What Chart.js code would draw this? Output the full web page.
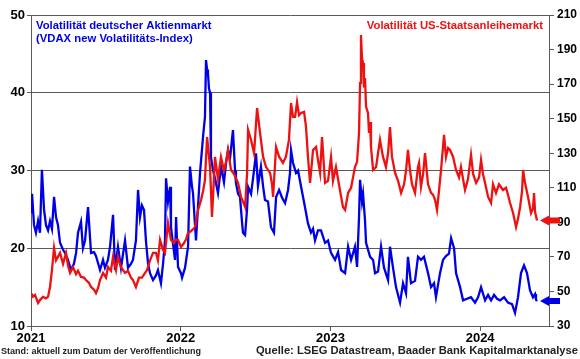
<!DOCTYPE html>
<html lang="de">
<head>
    <meta charset="UTF-8">
    <title>Volatilität</title>
    <script src="https://cdn.jsdelivr.net/npm/chart.js"></script>
    <style>
        body { margin: 0; background: #fff; }
        #wrap { width: 580px; height: 359px; }
    </style>
</head>
<body>
    <div id="wrap"><canvas id="volChart" width="580" height="359"></canvas></div>

    <script>
        // Zeitachse in Jahresbruchteilen
        let yearTicks = [2021, 2022, 2023, 2024];
        let leftTicks = [10, 20, 30, 40, 50];
        let rightTicks = [30, 50, 70, 90, 110, 130, 150, 170, 190, 210];

        // VDAX new (linke Achse)
        let vdaxDates = [2021.000, 2021.007, 2021.020, 2021.033, 2021.047, 2021.060, 2021.073, 2021.087, 2021.100, 2021.114,
            2021.127, 2021.140, 2021.154, 2021.167, 2021.180, 2021.194, 2021.214, 2021.227, 2021.247, 2021.267,
            2021.287, 2021.301, 2021.314, 2021.334, 2021.347, 2021.361, 2021.381, 2021.401, 2021.421, 2021.434,
            2021.461, 2021.481, 2021.494, 2021.514, 2021.528, 2021.548, 2021.561, 2021.581, 2021.601, 2021.628,
            2021.648, 2021.668, 2021.681, 2021.701, 2021.715, 2021.728, 2021.741, 2021.755, 2021.768, 2021.782,
            2021.795, 2021.815, 2021.835, 2021.848, 2021.868, 2021.882, 2021.895, 2021.902, 2021.915, 2021.929,
            2021.935, 2021.949, 2021.962, 2021.969, 2021.982, 2022.002, 2022.009, 2022.029, 2022.049, 2022.062,
            2022.075, 2022.082, 2022.102, 2022.116, 2022.129, 2022.149, 2022.162, 2022.169, 2022.176, 2022.182,
            2022.189, 2022.196, 2022.202, 2022.216, 2022.229, 2022.249, 2022.269, 2022.289, 2022.303, 2022.316,
            2022.329, 2022.349, 2022.363, 2022.369, 2022.383, 2022.396, 2022.409, 2022.416, 2022.430, 2022.443,
            2022.450, 2022.470, 2022.483, 2022.503, 2022.516, 2022.536, 2022.550, 2022.563, 2022.583, 2022.603,
            2022.623, 2022.637, 2022.657, 2022.677, 2022.697, 2022.717, 2022.730, 2022.737, 2022.750, 2022.770,
            2022.784, 2022.804, 2022.830, 2022.850, 2022.870, 2022.884, 2022.897, 2022.917, 2022.937, 2022.964,
            2022.984, 2023.004, 2023.031, 2023.051, 2023.071, 2023.098, 2023.118, 2023.138, 2023.164, 2023.178,
            2023.191, 2023.198, 2023.211, 2023.218, 2023.231, 2023.238, 2023.265, 2023.285, 2023.298, 2023.318,
            2023.338, 2023.358, 2023.385, 2023.398, 2023.418, 2023.438, 2023.465, 2023.485, 2023.505, 2023.518,
            2023.538, 2023.565, 2023.585, 2023.605, 2023.625, 2023.652, 2023.672, 2023.692, 2023.705, 2023.732,
            2023.752, 2023.772, 2023.792, 2023.806, 2023.826, 2023.839, 2023.866, 2023.886, 2023.912, 2023.939,
            2023.966, 2023.986, 2024.006, 2024.033, 2024.053, 2024.073, 2024.093, 2024.113, 2024.133, 2024.160,
            2024.186, 2024.213, 2024.233, 2024.253, 2024.273, 2024.293, 2024.313, 2024.333, 2024.353, 2024.367,
            2024.373, 2024.380];
        let vdaxValues = [24.5, 27.0, 23.0, 22.0, 23.5, 22.0, 30.1, 25.0, 23.0, 22.3,
            23.5, 22.5, 26.6, 24.0, 23.0, 20.7, 19.8, 19.4, 18.5, 17.2,
            18.0, 19.4, 22.0, 23.4, 20.0, 21.0, 25.3, 19.4, 19.5, 19.0,
            17.2, 18.5, 17.5, 18.5, 20.2, 24.3, 17.2, 20.2, 17.5, 21.0,
            17.5, 18.0, 18.5, 21.0, 27.5, 24.0, 25.5, 24.9, 20.9, 18.0,
            16.8, 15.9, 16.5, 17.2, 15.5, 18.0, 21.0, 29.0, 26.0, 27.9,
            22.7, 20.5, 18.5, 24.0, 17.6, 16.8, 16.2, 17.5, 20.2, 30.5,
            28.0, 27.1, 21.0, 25.5, 29.7, 34.3, 36.9, 44.2, 43.0, 42.5,
            40.5, 40.0, 31.7, 30.0, 29.0, 27.1, 30.5, 28.5, 31.0, 32.6,
            31.5, 35.2, 30.0, 28.4, 27.0, 26.6, 23.5, 22.0, 21.7, 25.0,
            27.9, 27.0, 29.0, 32.2, 28.0, 30.5, 28.0, 26.2, 26.0, 22.7,
            22.0, 26.6, 27.5, 26.5, 25.8, 27.5, 29.7, 32.6, 31.0, 29.7,
            30.0, 27.9, 25.3, 23.2, 22.0, 22.5, 21.0, 22.3, 22.3, 20.7,
            21.0, 19.4, 18.5, 19.5, 17.2, 16.8, 20.2, 18.5, 20.2, 17.6,
            24.0, 28.8, 26.0, 27.0, 23.6, 20.7, 18.9, 18.5, 16.8, 17.0,
            20.2, 17.5, 15.9, 20.2, 17.5, 15.0, 13.0, 15.5, 14.2, 18.9,
            15.5, 15.8, 18.9, 18.5, 18.9, 16.8, 15.0, 15.5, 13.7, 16.8,
            18.5, 19.0, 19.3, 21.3, 20.0, 16.8, 15.0, 13.3, 13.5, 13.7,
            13.0, 13.7, 15.0, 13.3, 14.0, 13.3, 14.0, 13.5, 13.3, 13.7,
            13.0, 12.8, 11.7, 13.7, 16.8, 17.8, 16.8, 14.6, 13.7, 14.1,
            13.4, 13.2];

        // MOVE-Index (rechte Achse)
        let moveDates = [2021.000, 2021.013, 2021.027, 2021.047, 2021.060, 2021.080, 2021.100, 2021.114, 2021.127, 2021.140,
            2021.154, 2021.167, 2021.180, 2021.194, 2021.214, 2021.234, 2021.247, 2021.261, 2021.281, 2021.301,
            2021.314, 2021.334, 2021.354, 2021.367, 2021.387, 2021.401, 2021.421, 2021.434, 2021.448, 2021.461,
            2021.481, 2021.501, 2021.514, 2021.534, 2021.548, 2021.568, 2021.581, 2021.601, 2021.628, 2021.648,
            2021.668, 2021.681, 2021.701, 2021.721, 2021.741, 2021.762, 2021.775, 2021.795, 2021.815, 2021.835,
            2021.848, 2021.862, 2021.868, 2021.882, 2021.895, 2021.915, 2021.935, 2021.955, 2021.969, 2021.982,
            2022.002, 2022.022, 2022.035, 2022.049, 2022.069, 2022.082, 2022.096, 2022.116, 2022.136, 2022.149,
            2022.162, 2022.176, 2022.189, 2022.196, 2022.209, 2022.229, 2022.249, 2022.269, 2022.289, 2022.303,
            2022.316, 2022.336, 2022.356, 2022.383, 2022.403, 2022.416, 2022.430, 2022.443, 2022.450, 2022.470,
            2022.490, 2022.510, 2022.530, 2022.550, 2022.570, 2022.597, 2022.610, 2022.617, 2022.637, 2022.657,
            2022.683, 2022.703, 2022.723, 2022.737, 2022.750, 2022.764, 2022.777, 2022.790, 2022.804, 2022.824,
            2022.837, 2022.850, 2022.864, 2022.884, 2022.904, 2022.917, 2022.931, 2022.944, 2022.964, 2022.984,
            2023.004, 2023.017, 2023.037, 2023.057, 2023.071, 2023.084, 2023.098, 2023.118, 2023.138, 2023.151,
            2023.164, 2023.178, 2023.191, 2023.198, 2023.204, 2023.211, 2023.218, 2023.224, 2023.231, 2023.238,
            2023.251, 2023.258, 2023.265, 2023.271, 2023.285, 2023.305, 2023.318, 2023.331, 2023.351, 2023.371,
            2023.385, 2023.398, 2023.411, 2023.432, 2023.452, 2023.472, 2023.492, 2023.505, 2023.518, 2023.532,
            2023.545, 2023.565, 2023.585, 2023.592, 2023.605, 2023.619, 2023.632, 2023.652, 2023.672, 2023.685,
            2023.699, 2023.712, 2023.725, 2023.739, 2023.759, 2023.772, 2023.786, 2023.799, 2023.819, 2023.839,
            2023.859, 2023.872, 2023.886, 2023.899, 2023.919, 2023.939, 2023.953, 2023.973, 2023.993, 2024.006,
            2024.019, 2024.033, 2024.053, 2024.073, 2024.086, 2024.106, 2024.126, 2024.153, 2024.173, 2024.186,
            2024.200, 2024.220, 2024.240, 2024.253, 2024.267, 2024.280, 2024.287, 2024.300, 2024.320, 2024.340,
            2024.353, 2024.360, 2024.367, 2024.380];
        let moveValues = [49, 47, 48, 43.3, 45, 46.8, 46, 47, 52.6, 62.4,
            75.2, 68, 70, 72.3, 66, 72.3, 65, 60.7, 64, 60,
            62, 58.4, 58, 56.6, 55, 52.6, 51, 49, 52, 56.6,
            60.7, 58, 64.2, 62, 70, 62.4, 70, 64, 60.7, 62,
            58, 56.6, 52.6, 58, 58, 60.7, 62.4, 68, 72.3, 72.3,
            68, 79.8, 79.8, 74, 72.3, 89.6, 79.8, 78, 80, 79.8,
            75.7, 78, 80, 83.8, 85, 86, 87.3, 97.2, 103, 108,
            114.5, 139.4, 128, 122, 93.1, 127.8, 115, 127.8, 120, 125,
            131.9, 120.3, 118, 112.8, 104.7, 102, 98.9, 118, 143.5, 137.7,
            130, 156.2, 141.7, 128, 122, 118.6, 112, 104.7, 133.6, 128,
            124.4, 128, 137.7, 159, 151, 151, 159.6, 152, 153.3, 154,
            145.2, 127.8, 112.8, 131.9, 133.6, 126, 118.6, 139.4, 112.8, 114,
            127.8, 114, 122, 112, 105, 98.9, 97.2, 107, 110, 116,
            122, 125, 141.7, 170.6, 198.4, 185, 182.2, 168, 173.5, 156.8,
            153.3, 141.7, 148, 133.6, 120.3, 122, 130, 137.7, 128, 122,
            130, 145.2, 128, 118.6, 114, 107, 112, 120, 131.9, 120,
            112, 107, 122, 124.4, 110.5, 118, 130.1, 112, 107, 106,
            103, 97.2, 108, 120.3, 140.6, 127.8, 133, 131.9, 128, 120.3,
            116, 122, 115, 108.7, 115, 129, 118, 112.8, 116, 126.1,
            118, 112.8, 104.7, 101.2, 112, 107, 112, 108.7, 110, 106,
            101.2, 95.4, 87.3, 92, 98.9, 108, 120.3, 112.8, 104.7, 95.4,
            98, 107, 96, 91];

        const FONT = '"Liberation Sans", Arial, sans-serif';
        const BLUE = '#0000e6';
        const RED = '#ee1111';
        const GRID = '#5a5a5a';

        function toPoints(xs, ys) {
            return xs.map((x, i) => ({ x: x, y: ys[i] }));
        }

        // Texte und Pfeile am rechten Rand
        const extras = {
            id: 'extras',
            afterDraw(chart) {
                const c = chart.ctx;
                const area = chart.chartArea;
                c.save();
                c.font = 'bold 11.3px ' + FONT;
                c.textBaseline = 'middle';
                c.fillStyle = BLUE;
                c.textAlign = 'left';
                c.fillText('Volatilität deutscher Aktienmarkt', area.left + 5, 26);
                c.fillText('(VDAX new Volatilitäts-Index)', area.left + 5, 39);
                c.fillStyle = RED;
                c.textAlign = 'right';
                c.fillText('Volatilität US-Staatsanleihemarkt', area.right - 6, 26);

                c.fillStyle = '#222';
                c.font = 'bold 9px ' + FONT;
                c.textAlign = 'left';
                c.fillText('Stand: aktuell zum Datum der Veröffentlichung', 1, 352);
                c.font = 'bold 11.2px ' + FONT;
                c.textAlign = 'right';
                c.fillText('Quelle: LSEG Datastream, Baader Bank Kapitalmarktanalyse', 578, 351);

                const yRed = chart.scales.yRight.getPixelForValue(moveValues[moveValues.length - 1]);
                const yBlue = chart.scales.yLeft.getPixelForValue(vdaxValues[vdaxValues.length - 1]);
                drawArrow(c, 540, yRed, RED);
                drawArrow(c, 540, yBlue, BLUE);
                c.restore();
            }
        };

        function drawArrow(c, x, y, color) {
            c.fillStyle = color;
            c.beginPath();
            c.moveTo(x, y);
            c.lineTo(x + 9, y - 5);
            c.lineTo(x + 9, y - 3);
            c.lineTo(x + 20, y - 3);
            c.lineTo(x + 20, y + 3);
            c.lineTo(x + 9, y + 3);
            c.lineTo(x + 9, y + 5);
            c.closePath();
            c.fill();
        }

        const ctx = document.getElementById('volChart').getContext('2d');
        const volChart = new Chart(ctx, {
            type: 'line',
            data: {
                datasets: [{
                    label: 'VDAX new',
                    data: toPoints(vdaxDates, vdaxValues),
                    yAxisID: 'yLeft',
                    borderColor: BLUE,
                    borderWidth: 2.3,
                    pointRadius: 0,
                    tension: 0,
                    order: 2
                }, {
                    label: 'MOVE',
                    data: toPoints(moveDates, moveValues),
                    yAxisID: 'yRight',
                    borderColor: RED,
                    borderWidth: 2.3,
                    pointRadius: 0,
                    tension: 0,
                    order: 1
                }]
            },
            options: {
                responsive: false,
                animation: false,
                layout: { padding: { top: 15, left: 0, right: 0, bottom: 0 } },
                plugins: {
                    legend: { display: false },
                    tooltip: { enabled: false }
                },
                scales: {
                    x: {
                        type: 'linear',
                        min: 2021,
                        max: 2024.46,
                        afterBuildTicks: s => { s.ticks = yearTicks.map(v => ({ value: v })); },
                        afterFit: s => { s.height = 33; },
                        border: { color: GRID, width: 1 },
                        grid: { drawOnChartArea: false, tickLength: 5, color: GRID },
                        ticks: {
                            color: '#000',
                            font: { family: FONT, size: 13, weight: 'bold' },
                            padding: 0,
                            maxRotation: 0,
                            callback: v => String(v)
                        }
                    },
                    yLeft: {
                        position: 'left',
                        min: 10,
                        max: 50,
                        afterBuildTicks: s => { s.ticks = leftTicks.map(v => ({ value: v })); },
                        afterFit: s => { s.width = 31; },
                        border: { color: GRID, width: 1 },
                        grid: { color: GRID, tickLength: 4, lineWidth: 1 },
                        ticks: {
                            color: '#000',
                            font: { family: FONT, size: 13, weight: 'bold' },
                            padding: 2
                        }
                    },
                    yRight: {
                        position: 'right',
                        min: 30,
                        max: 210,
                        afterBuildTicks: s => { s.ticks = rightTicks.map(v => ({ value: v })); },
                        afterFit: s => { s.width = 31; },
                        border: { color: GRID, width: 1 },
                        grid: { drawOnChartArea: false, tickLength: 5, color: GRID },
                        ticks: {
                            color: '#000',
                            font: { family: FONT, size: 12, weight: 'bold' },
                            padding: 3
                        }
                    }
                }
            },
            plugins: [extras]
        });
    </script>
</body>
</html>
